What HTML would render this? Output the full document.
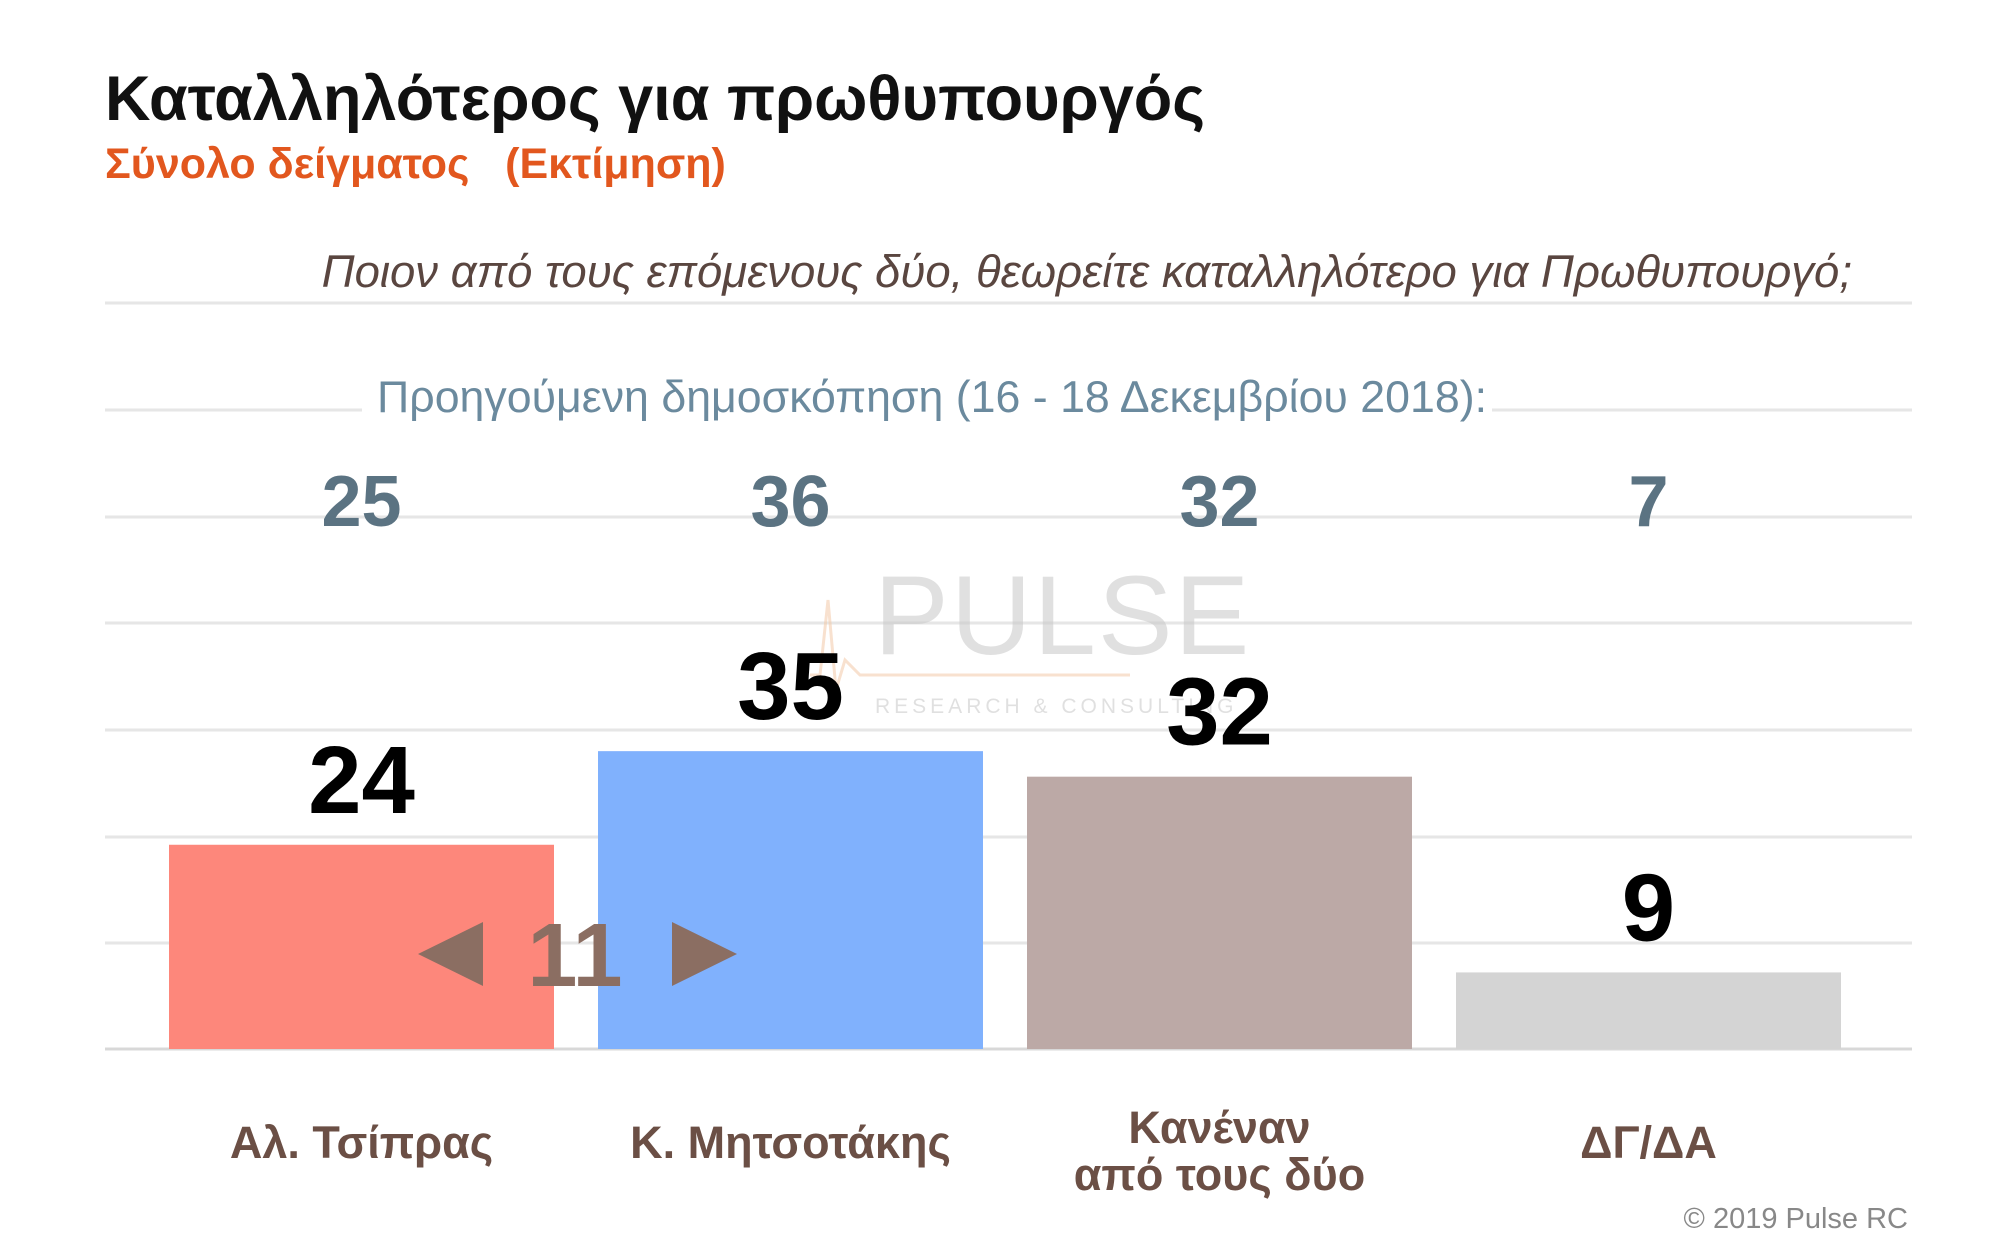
<!DOCTYPE html>
<html><head><meta charset="utf-8"><style>
html,body{margin:0;padding:0;background:#fff;}
svg{display:block;font-family:"Liberation Sans",sans-serif;}
</style></head><body>
<svg width="1998" height="1250" viewBox="0 0 1998 1250">
<text x="105" y="120" font-size="63" font-weight="bold" fill="#111">Καταλληλότερος για πρωθυπουργός</text>
<text x="105" y="178" font-size="43" font-weight="bold" fill="#e2571e" xml:space="preserve">Σύνολο δείγματος   (Εκτίμηση)</text>
<text x="1852" y="287" font-size="45.5" font-style="italic" fill="#5a4640" text-anchor="end">Ποιον από τους επόμενους δύο, θεωρείτε καταλληλότερο για Πρωθυπουργό;</text>
<g id="grid"></g>
<rect x="362" y="380" width="1130" height="55" fill="#fff"/>
<text x="377" y="412" font-size="44.7" fill="#6b8a9e">Προηγούμενη δημοσκόπηση (16 - 18 Δεκεμβρίου 2018):</text>
<g opacity="0.55">
<text x="874" y="654" font-size="112" fill="#c8c8c8" letter-spacing="2">PULSE</text>
<text x="875" y="713" font-size="21" fill="#c8c8c8" letter-spacing="4">RESEARCH &amp; CONSULTING</text>
<polyline points="810,675 820,675 828,600 836,690 845,660 860,675 1130,675" fill="none" stroke="#f4c9a8" stroke-width="3"/>
</g>
<g id="bars"></g>
<g fill="#8b6e62">
<polygon points="418,954 483,922 483,986"/>
<text x="575" y="986" font-size="90" font-weight="bold" text-anchor="middle">11</text>
<polygon points="737,954 672,922 672,986"/>
</g>
<text x="1908" y="1228" font-size="29" fill="#888" text-anchor="end">© 2019 Pulse RC</text>
</svg>
<script>
const categories = [["Αλ. Τσίπρας"],["Κ. Μητσοτάκης"],["Κανέναν","από τους δύο"],["ΔΓ/ΔΑ"]];
const values = [24, 35, 32, 9];
const previous = [25, 36, 32, 7];
const colors = ["#fd877b","#80b1fd","#bca9a6","#d4d4d4"];
const NS="http://www.w3.org/2000/svg";
const baseY=1049, pxPer=8.51, x0=169, pitch=429, bw=385;
const y=v=>baseY-v*pxPer;
const xc=i=>x0+i*pitch+bw/2;
const grid=document.getElementById('grid');
[303,410,517,623,730,837,943,1049].forEach((gy,k)=>{
  const l=document.createElementNS(NS,'line');
  l.setAttribute('x1',105);l.setAttribute('x2',1912);l.setAttribute('y1',gy);l.setAttribute('y2',gy);
  l.setAttribute('stroke',k==7?'#d8d8d8':'#e6e6e6');l.setAttribute('stroke-width',3);
  
  
  grid.appendChild(l);
});
const g=document.getElementById('bars');
function t(x,yy,s,size,fill){const e=document.createElementNS(NS,'text');e.setAttribute('x',x);e.setAttribute('y',yy);e.setAttribute('font-size',size);e.setAttribute('font-weight','bold');e.setAttribute('fill',fill);e.setAttribute('text-anchor','middle');e.textContent=s;g.appendChild(e);return e;}
values.forEach((v,i)=>{
  const r=document.createElementNS(NS,'rect');
  r.setAttribute('x',x0+i*pitch);r.setAttribute('y',y(v));r.setAttribute('width',bw);r.setAttribute('height',baseY-y(v));r.setAttribute('fill',colors[i]);
  
  
  g.appendChild(r);
  const lb=t(xc(i),y(v)-32,String(v),96,'#000');
  
  
  const pv=t(xc(i),526,String(previous[i]),72,'#5b7382');
  
  
  const lines=categories[i];
  lines.forEach((s,j)=>{
    const yy=lines.length>1?1143+j*47:1158;
    const c=t(xc(i),yy,s,45,'#6b4f45');
    
    
  });
});
</script>
</body></html>
